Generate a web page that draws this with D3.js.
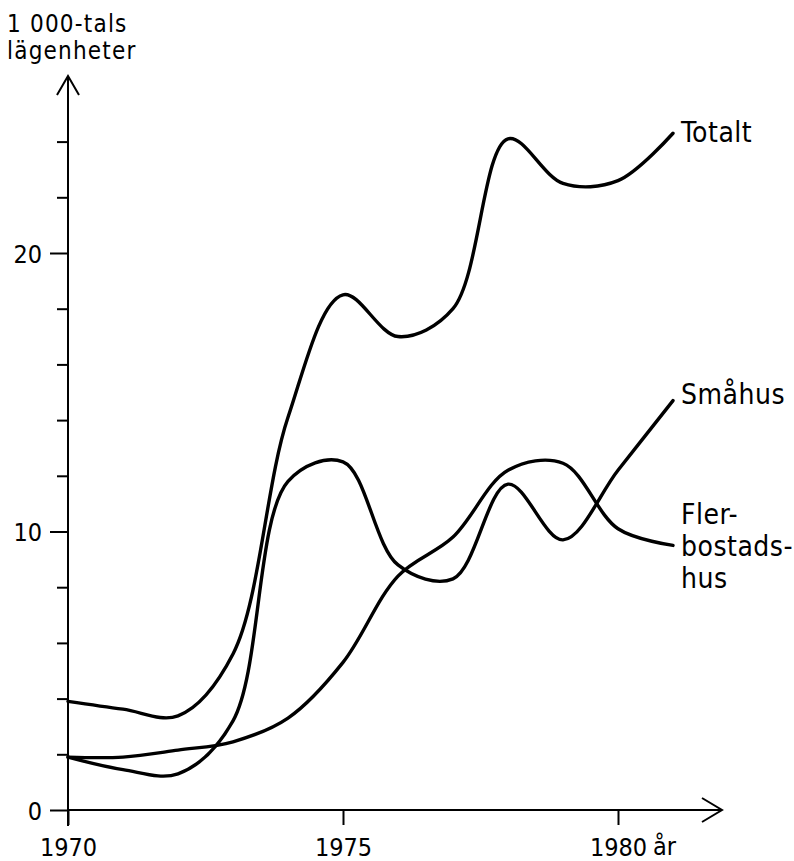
<!DOCTYPE html>
<html>
<head>
<meta charset="utf-8">
<script src="https://cdn.jsdelivr.net/npm/d3@7"></script>
<style>
    body { margin: 0; background: #fff; }
    text { font-family: "DejaVu Sans Condensed", "DejaVu Sans", sans-serif; font-stretch: condensed; fill: #000; }
</style>
</head>
<body>
<script>
// 1 000-tals lägenheter per år
var years = [1970, 1971, 1972, 1973, 1974, 1975, 1976, 1977, 1978, 1979, 1980, 1981];
var totalt = [3.9, 3.62, 3.38, 5.6, 14.1, 18.5, 17.0, 18.0, 24.1, 22.5, 22.6, 24.3];
var smahus = [1.9, 1.45, 1.3, 3.2, 11.8, 12.5, 8.8, 8.3, 11.7, 9.7, 12.2, 14.7];
var flerbostadshus = [1.9, 1.9, 2.15, 2.45, 3.3, 5.3, 8.4, 9.8, 12.2, 12.45, 10.1, 9.5];

var xTickYears = [1970, 1975, 1980];
var yTicks = [0, 2, 4, 6, 8, 10, 12, 14, 16, 18, 20, 22, 24];
var yLabelled = [0, 10, 20];

var width = 794;
var height = 861;

var svg = d3.select("body")
        .append("svg")
        .attr("width", width)
        .attr("height", height);

var x = d3.scaleLinear()
        .domain([1970, 1980])
        .range([68, 618]);
var y = d3.scaleLinear()
        .domain([0, 24])
        .range([810, 141.6]);

// axes drawn by hand-ish: line + arrow heads
var axisColor = "#000";
svg.append("line")
    .attr("x1", x(1970)).attr("y1", y(0))
    .attr("x2", 722).attr("y2", y(0))
    .style("stroke", axisColor).style("stroke-width", 2);
svg.append("polyline")
    .attr("points", [[702, y(0) - 12], [722, y(0)], [702, y(0) + 12]].join(" "))
    .style("fill", "none").style("stroke", axisColor).style("stroke-width", 2);

svg.append("line")
    .attr("x1", x(1970)).attr("y1", y(0) + 16)
    .attr("x2", x(1970)).attr("y2", 76)
    .style("stroke", axisColor).style("stroke-width", 2);
svg.append("polyline")
    .attr("points", [[x(1970) - 11, 95], [x(1970), 76], [x(1970) + 11, 95]].join(" "))
    .style("fill", "none").style("stroke", axisColor).style("stroke-width", 2);

// y ticks
var yAxis = d3.axisLeft(y)
        .tickValues(yTicks)
        .tickSize(0)
        .tickFormat(function(d) { return yLabelled.indexOf(d) >= 0 ? d : ""; });
var gy = svg.append("g")
        .attr("transform", "translate(" + x(1970) + ",0)")
        .call(yAxis);
gy.select(".domain").remove();
gy.selectAll(".tick line")
    .attr("x2", function(d) { return yLabelled.indexOf(d) >= 0 ? -18 : -11; })
    .style("stroke", axisColor)
    .style("stroke-width", 2);
gy.selectAll(".tick text")
    .attr("x", -26)
    .attr("dy", "0.36em")
    .style("font-size", "25px")
    .style("font-family", null);

// x ticks
var xAxis = d3.axisBottom(x)
        .tickValues(xTickYears)
        .tickSize(15)
        .tickPadding(13)
        .tickFormat(d3.format("d"));
var gx = svg.append("g")
        .attr("transform", "translate(0," + y(0) + ")")
        .call(xAxis);
gx.select(".domain").remove();
gx.selectAll(".tick line").style("stroke", axisColor).style("stroke-width", 2);
gx.selectAll(".tick text")
    .style("font-size", "25px")
    .style("font-family", null);

svg.append("text")
    .attr("x", 653)
    .attr("y", 855)
    .style("font-size", "25px")
    .text("år");

// y axis title
svg.append("text")
    .attr("x", 7)
    .attr("y", 32)
    .style("font-size", "24px")
    .style("letter-spacing", "1.2px")
    .text("1 000-tals");
svg.append("text")
    .attr("x", 7)
    .attr("y", 59)
    .style("font-size", "24px")
    .style("letter-spacing", "1.2px")
    .text("lägenheter");

// the three curves
var line = d3.line()
        .x(function(d) { return x(d[0]); })
        .y(function(d) { return y(d[1]); })
        .curve(d3.curveCatmullRom.alpha(0.5));

var series = [
    {name: "Totalt", values: totalt},
    {name: "Småhus", values: smahus},
    {name: "Flerbostadshus", values: flerbostadshus}
];

svg.selectAll(".serie")
    .data(series)
    .enter()
    .append("path")
    .attr("class", "serie")
    .attr("d", function(s) { return line(years.map(function(yr, i) { return [yr, s.values[i]]; })); })
    .style("fill", "none")
    .style("stroke", "#000")
    .style("stroke-width", 3.4)
    .style("stroke-linejoin", "round")
    .style("stroke-linecap", "round");

// labels at the line ends
var labels = [
    {lines: ["Totalt"], value: totalt[totalt.length - 1], dy: 9},
    {lines: ["Småhus"], value: smahus[smahus.length - 1], dy: 3},
    {lines: ["Fler-", "bostads-", "hus"], value: flerbostadshus[flerbostadshus.length - 1], dy: -21}
];

labels.forEach(function(l) {
    var t = svg.append("text")
        .attr("x", x(1981) + 8)
        .attr("y", y(l.value) + l.dy)
        .style("font-size", "28px")
        .style("letter-spacing", "0.5px");
    t.selectAll("tspan")
        .data(l.lines)
        .enter()
        .append("tspan")
        .attr("x", x(1981) + 8)
        .attr("dy", function(d, i) { return i === 0 ? 0 : 32; })
        .text(function(d) { return d; });
});
</script>
</body>
</html>
